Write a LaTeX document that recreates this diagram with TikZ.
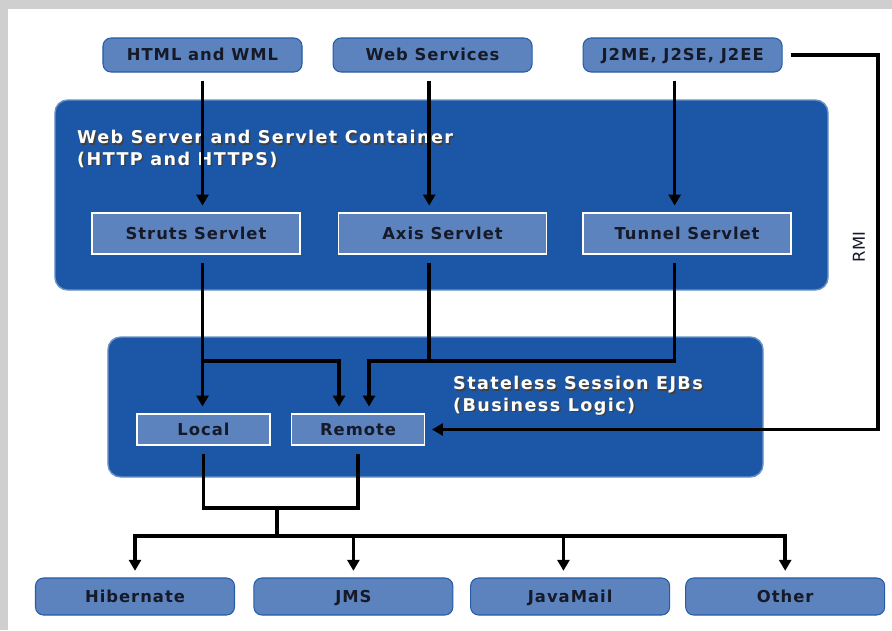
\documentclass[tikz,border=0pt]{standalone}
\usepackage{fontspec}
\setmainfont{DejaVu Sans}
\newfontfamily\lblfont{DejaVu Sans}[LetterSpace=6]
\newfontfamily\titlefont{DejaVu Sans}[LetterSpace=8]
\usepackage{xcolor}
\usetikzlibrary{arrows.meta, positioning}
\definecolor{panelblue}{RGB}{27,87,166}
\definecolor{boxblue}{RGB}{92,131,190}
\definecolor{edgeblue}{RGB}{38,92,168}
\definecolor{framegray}{RGB}{207,207,207}
\definecolor{labeltext}{RGB}{22,26,40}
% white title text with a dark drop shadow
\newcommand{\shd}[1]{\makebox[0pt][l]{\hspace{1.3pt}\raisebox{-1.3pt}{\textcolor{black!75}{#1}}}#1}

\begin{document}
\begin{tikzpicture}[
    x=0.03cm, y=-0.03cm,
    outerbox/.style={rectangle, rounded corners=0.24cm, draw=edgeblue, line width=0.9pt, fill=boxblue, minimum width=5.97cm, minimum height=1.02cm, text=labeltext, text height=10.2pt, text depth=0pt, font=\lblfont\bfseries\fontsize{14}{16}\selectfont},
    panel/.style={rectangle, rounded corners=0.38cm, draw=panelblue!65!white, line width=1.2pt, fill=panelblue},
    innerbox/.style={rectangle, draw=white, line width=1.3pt, fill=boxblue, minimum width=6.24cm, minimum height=1.23cm, text=labeltext, text height=10.2pt, text depth=0pt, font=\lblfont\bfseries\fontsize{14}{16}\selectfont},
    paneltitle/.style={anchor=north west, inner sep=0pt, align=left, text=white, font=\titlefont\bfseries\fontsize{15}{18.5}\selectfont},
    line/.style={line width=3pt},
    arrow/.style={line, -{Triangle[length=0.33cm, width=0.36cm]}, shorten >=0.2cm},
    gapstart/.style={shorten <=0.24cm}
]
    % frame
    \fill[framegray] (0,0) rectangle (892,630);
    \fill[white] (8,9) rectangle (892,630);

    % clients
    \node[outerbox] (html) at (202.5,55) {HTML and WML};
    \node[outerbox, right=0.9cm of html] (websvc) {Web Services};
    \node[outerbox, right=1.5cm of websvc] (j2me) {J2ME, J2SE, J2EE};

    % web tier
    \node[panel, minimum width=23.19cm, minimum height=5.7cm] (webpanel) at (441.5,195) {};
    \node[paneltitle] (webtitle) at (77,130) {\shd{Web Server and Servlet Container}\\\shd{(HTTP and HTTPS)}};
    \node[innerbox] (struts) at (196,233.5) {Struts Servlet};
    \node[innerbox, right=1.11cm of struts] (axis) {Axis Servlet};
    \node[innerbox, right=1.05cm of axis] (tunnel) {Tunnel Servlet};

    % ejb tier
    \node[panel, minimum width=19.65cm, minimum height=4.2cm] (ejbpanel) at (435.5,407) {};
    \node[paneltitle] (ejbtitle) at (453,376) {\shd{Stateless Session EJBs}\\\shd{(Business Logic)}};
    \node[innerbox, minimum width=3.99cm, minimum height=0.93cm] (local) at (203.5,429.5) {Local};
    \node[innerbox, minimum width=3.99cm, minimum height=0.93cm, right=0.6cm of local] (remote) {Remote};

    % services
    \node[outerbox, minimum height=1.11cm] (hibernate) at (135,596.5) {Hibernate};
    \node[outerbox, minimum height=1.11cm, right=0.55cm of hibernate] (jms) {JMS};
    \node[outerbox, minimum height=1.11cm, right=0.5cm of jms] (javamail) {JavaMail};
    \node[outerbox, minimum height=1.11cm, right=0.45cm of javamail] (other) {Other};

    \coordinate (bus) at (0,361);
    \coordinate (rmi) at (878,0);
    \coordinate (merge) at (277,508);
    \coordinate (fork) at (277,536);

    % clients to servlets
    \draw[arrow, gapstart] (html.south) -- (html.south |- struts.north);
    \draw[arrow, gapstart] ([xshift=-0.1cm]websvc.south) -- ([xshift=-0.1cm]websvc.south |- axis.north);
    \draw[arrow, gapstart] ([xshift=-0.24cm]j2me.south) -- ([xshift=-0.24cm]j2me.south |- tunnel.north);

    % servlets to EJBs
    \draw[arrow, gapstart] (struts.south -| html) -- (html |- bus) -- (html |- local.north);
    \draw[arrow] (html |- bus) -| ([xshift=-0.57cm]remote.north);
    \draw[arrow, gapstart] ([xshift=-0.1cm]axis.south -| websvc) -- ([xshift=-0.1cm]websvc |- bus) -| ([xshift=0.33cm]remote.north);
    \draw[line, gapstart] ([xshift=-0.24cm]tunnel.south -| j2me) -- ([xshift=-0.24cm]j2me |- bus) -- ([xshift=-0.1cm]websvc |- bus);

    % RMI
    \draw[arrow, gapstart] (j2me.east) -- (j2me.east -| rmi) -- (rmi |- remote.east) -- (remote.east);
    \node[rotate=90, text=labeltext, font=\fontsize{14}{16}\selectfont] (rmitext) at (859,247) {RMI};

    % EJBs to services
    \draw[line, gapstart, shorten >=0.24cm] (local.south) |- (merge) -| (remote.south);
    \draw[line] (merge) -- (fork);
    \draw[arrow] (fork) -| (hibernate.north);
    \draw[arrow] (fork) -| (jms.north);
    \draw[arrow] (fork) -| ([xshift=-0.2cm]javamail.north);
    \draw[arrow] (fork) -| (other.north);
\end{tikzpicture}
\end{document}
